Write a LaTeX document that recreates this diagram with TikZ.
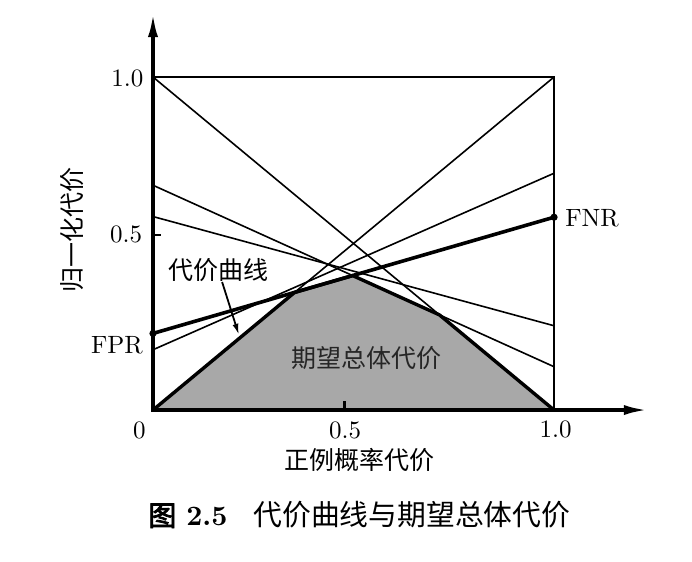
\documentclass[tikz,border=0pt]{standalone}
\usepackage{fontspec}
\newfontfamily\cjk{Noto Sans CJK SC}
\newfontfamily\cjkbf[FakeBold=3]{Noto Sans CJK SC}
\usetikzlibrary{arrows.meta}

\begin{document}
\begin{tikzpicture}[x=401pt,y=333pt,
    costline/.style={line width=1.6pt},
    axisline/.style={line width=3.5pt,line join=miter},
    lbl/.style={scale=2.5,inner sep=0pt},
    cjklbl/.style={font=\cjk\fontsize{25}{30}\selectfont,inner sep=0pt}]
		\useasboundingbox (-0.3815,-0.4535) rectangle (1.344,1.2312);

		\coordinate (O) at (0,0);
		\coordinate (X1) at (1,0);
		\coordinate (Y1) at (0,1);
		\coordinate (XY) at (1,1);
		\coordinate (xtip) at (1.234,0);
		\coordinate (ytip) at (0,1.192);

		\coordinate (FPR) at (0,0.23);
		\coordinate (FNR) at (1,0.579);
		\coordinate (A) at (0,0.675);
		\coordinate (B) at (1,0.13);
		\coordinate (C) at (0,0.581);
		\coordinate (D) at (1,0.253);
		\coordinate (E) at (0,0.181);
		\coordinate (F) at (1,0.711);

		% lower envelope
		\coordinate (P) at (intersection of O--XY and FPR--FNR);
		\coordinate (Q) at (intersection of FPR--FNR and A--B);
		\coordinate (R) at (intersection of A--B and Y1--X1);
		\fill[black!34] (O) -- (P) -- (Q) -- (R) -- (X1) -- cycle;
	    \node[cjklbl,text=black!85] (arealabel) at (0.533,0.157) {期望总体代价};

		% cost lines
		\draw[costline] (Y1) -- (X1);
		\draw[costline] (O) -- (XY);
		\draw[costline] (A) -- (B);
		\draw[costline] (C) -- (D);
		\draw[costline] (E) -- (F);
		\draw[line width=3.6pt] (FPR) -- (FNR);
		\draw[line width=3.4pt,line join=round] (O) -- (P) -- (Q) -- (R) -- (X1);
		\fill (FPR) circle (3.6pt);
		\fill (FNR) circle (3.6pt);

		% box and axes
		\draw[line width=2.4pt] (Y1) -- (XY) -- (X1);
		\draw[axisline,{Latex[length=24pt,width=10pt]}-{Latex[length=24pt,width=10pt]}] (ytip) -- (O) -- (xtip);
		\draw[line width=2.5pt] (0,0.526) -- ++(8pt,0);
		\draw[line width=2.5pt] (0.478,0) -- ++(0,9pt);

	    \node[lbl] (zero) at (-0.034,-0.062) {0};
	    \node[lbl] (xhalf) at (0.479,-0.062) {0.5};
	    \node[lbl] (xone) at (1.004,-0.059) {1.0};
	    \node[lbl] (yone) at (-0.064,0.995) {1.0};
	    \node[lbl] (yhalf) at (-0.067,0.526) {0.5};
	    \node[lbl,anchor=east] (fprlabel) at (-0.024,0.195) {FPR};
	    \node[lbl,anchor=west] (fnrlabel) at (1.027,0.576) {FNR};
	    \node[cjklbl] (xlabel) at (0.516,-0.150) {正例概率代价};
	    \node[cjklbl,rotate=90] (ylabel) at (-0.203,0.541) {归一化代价};

		% arrows
	    \node[cjklbl] (curvelabel) at (0.163,0.420) {代价曲线};
		\coordinate (curvetip) at (0.214,0.226);
		\draw[line width=1.8pt,-{Latex[length=11pt,width=6pt]}] (curvelabel) -- (curvetip);

	    \node[anchor=west,inner sep=0pt] (caption) at (-0.012,-0.315)
	      {{\cjkbf\fontsize{28}{30}\selectfont 图}\hspace{10pt}\scalebox{2.8}{\bfseries 2.5}\hspace{26pt}{\cjk\fontsize{28.8}{30}\selectfont 代价曲线与期望总体代价}};
\end{tikzpicture}
\end{document}
